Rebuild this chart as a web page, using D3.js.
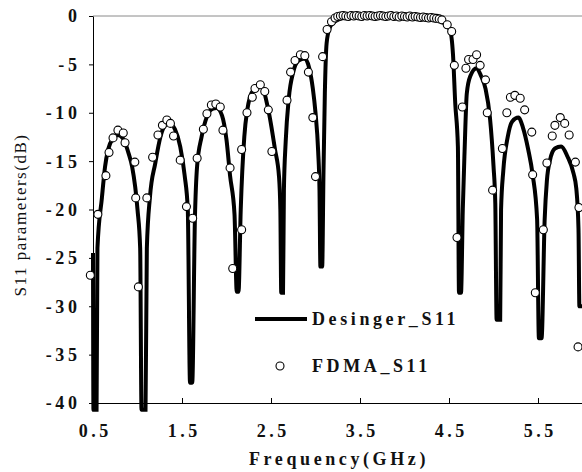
<!DOCTYPE html>
<html>
<head>
<meta charset="utf-8">
<script src="https://cdn.jsdelivr.net/npm/d3@7"></script>
<style>
  html, body { margin: 0; padding: 0; background: #fff; }
  svg { display: block; }
</style>
</head>
<body>
<svg id="chart" width="582" height="472"></svg>
<script>
// ---- data ----
const xTickValues = [0.5, 1.5, 2.5, 3.5, 4.5, 5.5];
const yTickValues = [0, -5, -10, -15, -20, -25, -30, -35, -40];

const designerFreq = [
  0.50, 0.505, 0.54, 0.55, 0.60, 0.635, 0.67, 0.72, 0.78, 0.84, 0.90, 0.94, 1.00, 1.03, 1.045, 1.09,
  1.105, 1.14, 1.20, 1.26, 1.31, 1.365, 1.42, 1.48, 1.53, 1.565, 1.59, 1.615,
  1.645, 1.67, 1.72, 1.78, 1.84, 1.89, 1.95, 2.00, 2.04, 2.09, 2.115, 2.135,
  2.16, 2.20, 2.23, 2.30, 2.39, 2.47, 2.545, 2.59, 2.605, 2.615, 2.635,
  2.645, 2.665, 2.70, 2.75, 2.81, 2.88, 2.93, 2.97, 3.00, 3.03, 3.045, 3.055, 3.075,
  3.09, 3.105, 3.125, 3.16, 3.20, 3.26, 3.33, 3.50, 3.70, 3.90, 4.10, 4.30, 4.37,
  4.40, 4.45, 4.51, 4.545, 4.57, 4.60, 4.612, 4.635,
  4.655, 4.675, 4.70, 4.74, 4.81, 4.86, 4.91, 4.96, 5.00, 5.02, 5.035, 5.075,
  5.085, 5.11, 5.16, 5.21, 5.28, 5.33, 5.39, 5.44, 5.49, 5.51, 5.54,
  5.575, 5.60, 5.635, 5.69, 5.76, 5.83, 5.90, 5.93, 5.955, 5.965, 6.00
];
const designerS11 = [
  -24.5, -40.7, -40.7, -24, -18.8, -15.6, -13.8, -12.7, -12.3, -12.7, -14.2, -15.6, -20, -24, -40.7, -40.7,
  -24, -18.7, -15.2, -12.4, -11.3, -11.1, -11.7, -13.5, -16.5, -20, -37.9, -37.9,
  -21, -15.5, -12.5, -10.4, -9.6, -9.5, -10.3, -12.8, -16.5, -20.5, -28.5, -28.5,
  -20, -12.5, -9.9, -7.7, -7.3, -9.7, -13.8, -16.6, -20, -28.6, -28.6,
  -18, -13, -8.5, -5.8, -4.6, -4.4, -5.4, -7.5, -10, -14, -18, -25.9, -25.9,
  -16, -8, -2.8, -1.2, -0.7, -0.35, -0.2, -0.2, -0.2, -0.2, -0.2, -0.2, -0.25,
  -0.4, -0.8, -1.4, -4, -9, -13.5, -28.6, -28.6,
  -20, -14, -8, -6.2, -5.4, -6.2, -7.5, -10.5, -15.5, -19.3, -31.4, -31.4,
  -20, -16, -12.5, -10.9, -10.5, -11.5, -13.8, -16.4, -21, -33.3, -33.3,
  -21, -17, -14.9, -13.7, -13.5, -14.5, -16.3, -17.8, -22, -30, -30
];

const fdmaFreq = [
  0.47, 0.555, 0.645, 0.68, 0.725, 0.78, 0.84, 0.86, 0.97, 0.98, 1.01,
  1.105, 1.17, 1.23, 1.28, 1.33, 1.37, 1.405, 1.48, 1.55, 1.62,
  1.67, 1.74, 1.78, 1.83, 1.88, 1.93, 1.96, 2.04, 2.07,
  2.17, 2.17, 2.23, 2.29, 2.32, 2.38, 2.43, 2.47, 2.51,
  2.68, 2.72, 2.77, 2.83, 2.88, 2.92, 2.97, 3.00,
  3.08, 3.13, 3.18, 3.22,
  3.25, 3.28, 3.31, 3.34, 3.37, 3.40, 3.43, 3.46, 3.49, 3.52, 3.55, 3.58, 3.61, 3.64, 3.67, 3.70,
  3.73, 3.76, 3.79, 3.82, 3.85, 3.88, 3.91, 3.94, 3.97, 4.00, 4.03, 4.06, 4.09, 4.12, 4.15, 4.18,
  4.21, 4.24, 4.27, 4.30, 4.33, 4.36, 4.39,
  4.42, 4.48, 4.53, 4.56, 4.59, 4.65,
  4.69, 4.72, 4.77, 4.81, 4.85, 4.91, 4.93, 4.99,
  5.10, 5.15, 5.19, 5.24, 5.30, 5.35, 5.43, 5.44, 5.47,
  5.56, 5.60, 5.66, 5.69, 5.75, 5.80, 5.85, 5.92, 5.96, 5.95
];
const fdmaS11 = [
  -26.8, -20.5, -16.5, -14.1, -12.6, -11.8, -12.1, -13.1, -15.1, -18.8, -28.0,
  -18.8, -14.6, -12.3, -11.3, -10.75, -11.1, -12.4, -14.9, -19.7, -20.9,
  -14.7, -11.7, -10.1, -9.2, -9.1, -9.4, -11.8, -15.7, -26.1,
  -13.8, -22.1, -10.0, -8.4, -7.5, -7.1, -7.8, -9.7, -14.0,
  -8.7, -5.8, -4.6, -4.0, -4.1, -5.8, -10.5, -16.6,
  -4.2, -1.4, -0.6, -0.2,
  -0.05, 0.0, 0.05, 0.0, -0.05, 0.05, 0.0, 0.05, 0.0, -0.05, 0.05, 0.0, 0.05, 0.0, -0.05, 0.0,
  0.05, 0.0, -0.05, 0.0, 0.05, -0.05, 0.0, -0.1, 0.0, -0.05, -0.1, 0.0, -0.1, -0.05, -0.1, -0.15,
  -0.1, -0.15, -0.2, -0.15, -0.2, -0.25, -0.3,
  -0.4, -0.9, -1.6, -5.1, -22.9, -9.4,
  -5.4, -4.5, -4.5, -4.0, -5.1, -6.6, -10.0, -18.0,
  -13.7, -10.0, -8.4, -8.2, -8.5, -9.7, -12.0, -16.4, -28.6,
  -22.1, -15.2, -12.4, -11.3, -10.5, -11.1, -12.3, -15.1, -19.8, -34.2
];

const seriesNames = ["Desinger_S11", "FDMA_S11"];
const xTitle = "Frequency(GHz)";
const yTitle = "S11 parameters(dB)";

// ---- drawing ----
const svg = d3.select("#chart");
const plot = { left: 93, right: 582.5, top: 16, bottom: 403 };

const x = d3.scaleLinear().domain([0.5, 6]).range([plot.left, plot.right]);
const y = d3.scaleLinear().domain([-40, 0]).range([plot.bottom, plot.top]);

const serif = "'Liberation Serif', 'Times New Roman', serif";
const fs = 18, ls = "3.6px";

// top border
svg.append("line")
  .attr("x1", plot.left).attr("x2", 582)
  .attr("y1", y(0)).attr("y2", y(0))
  .attr("stroke", "#8a8a8a").attr("stroke-width", 1);

// y axis
const yAxis = svg.append("g")
  .attr("transform", `translate(${plot.left},0)`)
  .call(d3.axisLeft(y).tickValues(yTickValues).tickSizeInner(4).tickSizeOuter(0)
        .tickFormat(d => String(d)));
yAxis.select(".domain").attr("stroke", "#000").attr("stroke-width", 1);
yAxis.selectAll(".tick line").attr("stroke", "#000");
yAxis.selectAll(".tick text")
  .attr("font-family", serif).attr("font-size", fs).attr("font-weight", "bold")
  .attr("letter-spacing", ls).attr("fill", "#111")
  .attr("x", -12.5).attr("dy", "0.33em");

// x axis
const xAxis = svg.append("g")
  .attr("transform", `translate(0,${plot.bottom})`)
  .call(d3.axisBottom(x).tickValues(xTickValues).tickSizeInner(-5).tickSizeOuter(0)
        .tickFormat(d3.format(".1f")));
xAxis.select(".domain").attr("stroke", "#000").attr("stroke-width", 1)
  .attr("d", `M${plot.left},0.5H582`);
xAxis.selectAll(".tick line").attr("stroke", "#000");
xAxis.selectAll(".tick text")
  .attr("font-family", serif).attr("font-size", fs).attr("font-weight", "bold")
  .attr("letter-spacing", ls).attr("fill", "#111")
  .attr("y", 21).attr("dx", "1.8px").attr("dy", "0.71em");

// designer line
const designer = designerFreq.map((f, i) => [f, designerS11[i]]);
const line = d3.line().x(d => x(d[0])).y(d => y(d[1])).curve(d3.curveMonotoneX);
svg.append("path")
  .datum(designer)
  .attr("d", line)
  .attr("fill", "none")
  .attr("stroke", "#000")
  .attr("stroke-width", 4)
  .attr("stroke-linejoin", "miter")
  .attr("stroke-miterlimit", 2);

// FDMA circles
const fdma = fdmaFreq.map((f, i) => [f, fdmaS11[i]]);
svg.append("g").selectAll("circle")
  .data(fdma).join("circle")
  .attr("cx", d => x(d[0])).attr("cy", d => y(d[1]))
  .attr("r", 4)
  .attr("fill", "#fff")
  .attr("stroke", "#000")
  .attr("stroke-width", 1.1);

// legend
const lg = svg.append("g");
lg.append("line").attr("x1", 255).attr("x2", 307).attr("y1", 319).attr("y2", 319)
  .attr("stroke", "#000").attr("stroke-width", 4);
lg.append("text").attr("x", 312).attr("y", 325).text(seriesNames[0])
  .attr("font-family", serif).attr("font-size", fs).attr("font-weight", "bold")
  .attr("letter-spacing", ls).attr("fill", "#111");
lg.append("circle").attr("cx", 280).attr("cy", 366).attr("r", 4)
  .attr("fill", "#fff").attr("stroke", "#000").attr("stroke-width", 1.1);
lg.append("text").attr("x", 312).attr("y", 372).text(seriesNames[1])
  .attr("font-family", serif).attr("font-size", fs).attr("font-weight", "bold")
  .attr("letter-spacing", ls).attr("fill", "#111");

// axis titles
svg.append("text")
  .attr("x", 339).attr("y", 465)
  .attr("text-anchor", "middle")
  .attr("font-family", serif).attr("font-size", fs).attr("font-weight", "bold")
  .attr("letter-spacing", ls).attr("fill", "#111")
  .text(xTitle);
svg.append("text")
  .attr("transform", "translate(26,215) rotate(-90)")
  .attr("text-anchor", "middle")
  .attr("font-family", serif).attr("font-size", 17)
  .attr("letter-spacing", "1.5px").attr("fill", "#111")
  .text(yTitle);
</script>
</body>
</html>
